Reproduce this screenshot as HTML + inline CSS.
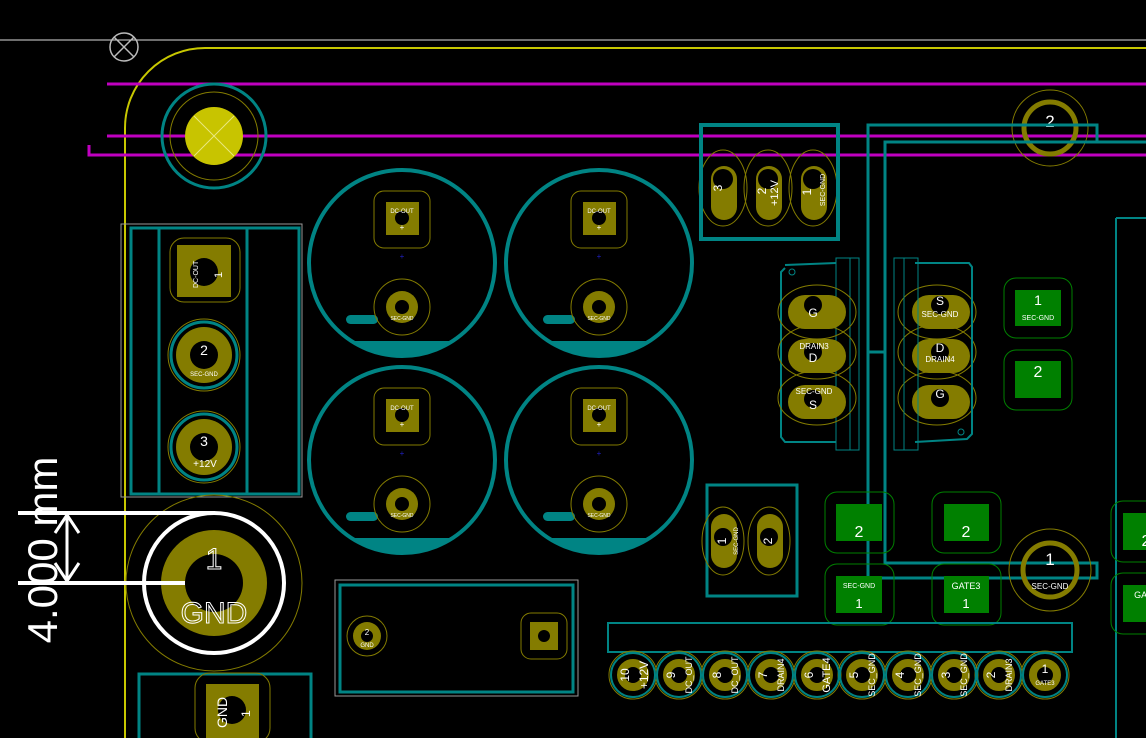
<!DOCTYPE html>
<html><head><meta charset="utf-8"><style>
html,body{margin:0;padding:0;background:#000;width:1146px;height:738px;overflow:hidden}
svg{display:block}
text{font-family:"Liberation Sans",sans-serif;fill:#fff}
</style></head><body>
<svg width="1146" height="738" viewBox="0 0 1146 738" xmlns="http://www.w3.org/2000/svg">
<defs>
<g id="cap">
<circle cx="0" cy="0" r="93" fill="none" stroke="#008484" stroke-width="4"/>
<path d="M-52,78 A95,95 0 0 0 52,78 Z" fill="#008484"/>
<rect x="-56" y="52" width="32" height="9" rx="4.5" fill="#008484"/>
<rect x="-28" y="-72" width="56" height="57" rx="10" fill="none" stroke="#847c00" stroke-width="1"/>
<rect x="-16" y="-61" width="33" height="33" fill="#847c00"/>
<circle cx="0" cy="-45" r="7" fill="#000"/>
<text x="0" y="-50" font-size="6" text-anchor="middle">DC-OUT</text>
<text x="0" y="-33" font-size="8" text-anchor="middle">+</text>
<circle cx="0" cy="44" r="28" fill="none" stroke="#847c00" stroke-width="1"/>
<circle cx="0" cy="44" r="16" fill="#847c00"/>
<circle cx="0" cy="44" r="7" fill="#000"/>
<text x="0" y="57" font-size="5" text-anchor="middle">SEC-GND</text>
<text x="0" y="-4" font-size="8" text-anchor="middle" style="fill:#2020c0">+</text>
</g>
</defs>

<line x1="0" y1="40" x2="1146" y2="40" stroke="#ddd" stroke-width="1"/>
<circle cx="124" cy="47" r="14" fill="none" stroke="#bbb" stroke-width="1.5"/>
<path d="M114,37 L134,57 M134,37 L114,57" stroke="#bbb" stroke-width="1.5"/>
<path d="M1146,48 L205,48 A80,80 0 0 0 125,128 L125,738" fill="none" stroke="#c8c800" stroke-width="2"/>
<line x1="107" y1="84" x2="1146" y2="84" stroke="#c000c0" stroke-width="3"/>
<line x1="107" y1="136" x2="1146" y2="136" stroke="#c000c0" stroke-width="3"/>
<path d="M89,145 L89,155 L1146,155" fill="none" stroke="#c000c0" stroke-width="3"/>

<circle cx="214" cy="136" r="52" fill="none" stroke="#008484" stroke-width="3"/>
<circle cx="214" cy="136" r="44" fill="none" stroke="#847c00" stroke-width="1"/>
<circle cx="214" cy="136" r="29" fill="#c8c400"/>
<path d="M194,116 L234,156 M234,116 L194,156" stroke="#e8e880" stroke-width="1"/>

<circle cx="1050" cy="128" r="38" fill="none" stroke="#847c00" stroke-width="1"/>
<circle cx="1050" cy="128" r="26" fill="none" stroke="#847c00" stroke-width="5"/>
<text x="1050" y="127" font-size="17" text-anchor="middle">2</text>

<rect x="121" y="224" width="181" height="273" fill="none" stroke="#999" stroke-width="1"/>
<rect x="131" y="228" width="168" height="266" fill="none" stroke="#008484" stroke-width="3"/>
<line x1="159" y1="228" x2="159" y2="494" stroke="#008484" stroke-width="3"/>
<line x1="247" y1="228" x2="247" y2="494" stroke="#008484" stroke-width="3"/>
<rect x="170" y="238" width="70" height="64" rx="14" fill="none" stroke="#847c00" stroke-width="1"/>
<rect x="177" y="245" width="54" height="52" fill="#847c00"/>
<circle cx="204" cy="272" r="14" fill="#000"/>
<text x="0" y="0" font-size="7" transform="translate(198,288) rotate(-90)">DC-OUT</text>
<text x="0" y="0" font-size="11" transform="translate(222,278) rotate(-90)">1</text>
<g>
<circle cx="204" cy="355" r="36" fill="none" stroke="#847c00" stroke-width="1"/>
<circle cx="204" cy="355" r="33" fill="none" stroke="#008484" stroke-width="3"/>
<circle cx="204" cy="355" r="28" fill="#847c00"/>
<circle cx="204" cy="355" r="14" fill="#000"/>
<text x="204" y="355" font-size="14" text-anchor="middle">2</text>
<text x="204" y="376" font-size="6" text-anchor="middle">SEC-GND</text>
</g>
<g>
<circle cx="204" cy="447" r="36" fill="none" stroke="#847c00" stroke-width="1"/>
<circle cx="204" cy="447" r="33" fill="none" stroke="#008484" stroke-width="3"/>
<circle cx="204" cy="447" r="28" fill="#847c00"/>
<circle cx="204" cy="447" r="14" fill="#000"/>
<text x="204" y="446" font-size="14" text-anchor="middle">3</text>
<text x="205" y="467" font-size="10" text-anchor="middle">+12V</text>
</g>

<use href="#cap" x="402" y="263"/>
<use href="#cap" x="599" y="263"/>
<use href="#cap" x="402" y="460"/>
<use href="#cap" x="599" y="460"/>

<circle cx="214" cy="583" r="88" fill="none" stroke="#847c00" stroke-width="1"/>
<circle cx="214" cy="583" r="70" fill="none" stroke="#fff" stroke-width="4"/>
<circle cx="214" cy="583" r="53" fill="#847c00"/>
<circle cx="214" cy="583" r="29" fill="#000"/>
<text x="214" y="569" font-size="30" text-anchor="middle" style="fill:none;stroke:#fff;stroke-width:1">1</text>
<text x="214" y="623" font-size="30" text-anchor="middle" style="fill:none;stroke:#fff;stroke-width:1">GND</text>

<line x1="18" y1="513" x2="215" y2="513" stroke="#fff" stroke-width="4"/>
<line x1="18" y1="583" x2="185" y2="583" stroke="#fff" stroke-width="4"/>
<line x1="67" y1="515" x2="67" y2="581" stroke="#fff" stroke-width="3"/>
<path d="M55,533 L67,515 L79,533 M55,563 L67,581 L79,563" fill="none" stroke="#fff" stroke-width="3"/>
<text x="0" y="0" font-size="42" text-anchor="middle" transform="translate(57,550) rotate(-90)">4.000 mm</text>

<rect x="139" y="674" width="172" height="70" fill="none" stroke="#008484" stroke-width="3"/>
<rect x="195" y="673" width="75" height="70" rx="15" fill="none" stroke="#847c00" stroke-width="1"/>
<rect x="206" y="684" width="53" height="54" fill="#847c00"/>
<circle cx="232" cy="710" r="14" fill="#000"/>
<text x="0" y="0" font-size="14" transform="translate(227,728) rotate(-90)">GND</text>
<text x="0" y="0" font-size="12" transform="translate(250,717) rotate(-90)">1</text>

<rect x="335" y="580" width="243" height="116" fill="none" stroke="#999" stroke-width="1"/>
<rect x="340" y="585" width="233" height="107" fill="none" stroke="#008484" stroke-width="3"/>
<circle cx="367" cy="636" r="20" fill="none" stroke="#847c00" stroke-width="1"/>
<circle cx="367" cy="636" r="14" fill="#847c00"/>
<circle cx="367" cy="636" r="6" fill="#000"/>
<text x="367" y="635" font-size="8" text-anchor="middle">2</text>
<text x="367" y="647" font-size="6" text-anchor="middle">GND</text>
<rect x="521" y="613" width="46" height="46" rx="10" fill="none" stroke="#847c00" stroke-width="1"/>
<rect x="530" y="622" width="28" height="28" fill="#847c00"/>
<circle cx="544" cy="636" r="6" fill="#000"/>

<g>
<ellipse cx="723" cy="188" rx="24" ry="38" fill="none" stroke="#847c00" stroke-width="1"/>
<ellipse cx="768" cy="188" rx="24" ry="38" fill="none" stroke="#847c00" stroke-width="1"/>
<ellipse cx="813" cy="188" rx="24" ry="38" fill="none" stroke="#847c00" stroke-width="1"/>
<rect x="711" y="166" width="26" height="54" rx="13" fill="#847c00"/>
<rect x="756" y="166" width="26" height="54" rx="13" fill="#847c00"/>
<rect x="801" y="166" width="26" height="54" rx="13" fill="#847c00"/>
<circle cx="723" cy="179" r="10" fill="#000"/>
<circle cx="768" cy="179" r="10" fill="#000"/>
<circle cx="813" cy="179" r="10" fill="#000"/>
<text x="0" y="0" font-size="12" transform="translate(722,188) rotate(-90)" text-anchor="middle">3</text>
<text x="0" y="0" font-size="12" transform="translate(766,191) rotate(-90)" text-anchor="middle">2</text>
<text x="0" y="0" font-size="11" transform="translate(778,193) rotate(-90)" text-anchor="middle">+12V</text>
<text x="0" y="0" font-size="12" transform="translate(811,192) rotate(-90)" text-anchor="middle">1</text>
<text x="0" y="0" font-size="7" transform="translate(825,190) rotate(-90)" text-anchor="middle">SEC-GND</text>
<rect x="701" y="125" width="137" height="114" fill="none" stroke="#008484" stroke-width="4"/>
</g>

<path d="M785,268 L781,272 L781,437 L785,442 L836,442 M836,263 L785,265" fill="none" stroke="#008484" stroke-width="2"/>
<rect x="836" y="258" width="14" height="192" fill="none" stroke="#008484" stroke-width="1"/>
<rect x="850" y="258" width="9" height="192" fill="none" stroke="#008484" stroke-width="1"/>
<circle cx="792" cy="272" r="3" fill="none" stroke="#008484" stroke-width="1"/>
<g fill="none" stroke="#847c00" stroke-width="1">
<ellipse cx="817" cy="312" rx="39" ry="27"/><ellipse cx="817" cy="352" rx="39" ry="27"/><ellipse cx="817" cy="398" rx="39" ry="27"/>
<ellipse cx="937" cy="312" rx="39" ry="27"/><ellipse cx="937" cy="352" rx="39" ry="27"/><ellipse cx="937" cy="398" rx="39" ry="27"/>
</g>
<g fill="#847c00">
<rect x="788" y="295" width="58" height="34" rx="17"/><rect x="788" y="339" width="58" height="34" rx="17"/><rect x="788" y="385" width="58" height="34" rx="17"/>
<rect x="912" y="295" width="58" height="34" rx="17"/><rect x="912" y="339" width="58" height="34" rx="17"/><rect x="912" y="385" width="58" height="34" rx="17"/>
</g>
<g fill="#000">
<circle cx="813" cy="305" r="9"/><circle cx="813" cy="352" r="9"/><circle cx="813" cy="399" r="9"/>
<circle cx="940" cy="305" r="9"/><circle cx="940" cy="352" r="9"/><circle cx="940" cy="398" r="9"/>
</g>
<g font-size="12" text-anchor="middle">
<text x="813" y="317">G</text><text x="813" y="362">D</text><text x="813" y="409">S</text>
<text x="940" y="305">S</text><text x="940" y="352">D</text><text x="940" y="398">G</text>
</g>
<g font-size="8" text-anchor="middle">
<text x="814" y="349">DRAIN3</text><text x="814" y="394">SEC-GND</text>
<text x="940" y="317">SEC-GND</text><text x="940" y="362">DRAIN4</text>
</g>
<path d="M915,263 L969,263 L972,267 L972,434 L967,439 L915,442" fill="none" stroke="#008484" stroke-width="2"/>
<rect x="904" y="258" width="14" height="192" fill="none" stroke="#008484" stroke-width="1"/>
<rect x="894" y="258" width="10" height="192" fill="none" stroke="#008484" stroke-width="1"/>
<circle cx="961" cy="432" r="3" fill="none" stroke="#008484" stroke-width="1"/>

<path d="M868,578 L868,125 L1097,125 L1097,142" fill="none" stroke="#008484" stroke-width="3"/>
<path d="M1146,142 L885,142 L885,563 L1097,563 L1097,578 L868,578" fill="none" stroke="#008484" stroke-width="3"/>
<line x1="868" y1="352" x2="885" y2="352" stroke="#008484" stroke-width="3"/>
<line x1="1116" y1="218" x2="1116" y2="738" stroke="#008484" stroke-width="2"/>
<line x1="1116" y1="218" x2="1146" y2="218" stroke="#008484" stroke-width="2"/>

<g fill="none" stroke="#008000" stroke-width="1">
<rect x="1004" y="278" width="68" height="60" rx="12"/><rect x="1004" y="350" width="68" height="60" rx="12"/>
<rect x="825" y="492" width="69" height="61" rx="12"/><rect x="825" y="564" width="69" height="61" rx="12"/>
<rect x="932" y="492" width="69" height="61" rx="12"/><rect x="932" y="564" width="69" height="61" rx="12"/>
<rect x="1111" y="501" width="50" height="61" rx="12"/><rect x="1111" y="573" width="50" height="61" rx="12"/>
</g>
<g fill="#008000">
<rect x="1015" y="290" width="46" height="36"/><rect x="1015" y="361" width="46" height="37"/>
<rect x="836" y="504" width="46" height="37"/><rect x="836" y="576" width="46" height="37"/>
<rect x="944" y="504" width="45" height="37"/><rect x="944" y="576" width="45" height="37"/>
<rect x="1123" y="513" width="30" height="37"/><rect x="1123" y="585" width="30" height="37"/>
</g>
<g text-anchor="middle">
<text x="1038" y="305" font-size="14">1</text><text x="1038" y="320" font-size="7">SEC-GND</text>
<text x="1038" y="377" font-size="16">2</text>
<text x="859" y="537" font-size="16">2</text><text x="966" y="537" font-size="16">2</text>
<text x="859" y="588" font-size="7">SEC-GND</text><text x="859" y="608" font-size="13">1</text>
<text x="966" y="589" font-size="9">GATE3</text><text x="966" y="608" font-size="13">1</text>
<text x="1146" y="546" font-size="16">2</text><text x="1146" y="598" font-size="9">GATE</text>
</g>

<circle cx="1050" cy="570" r="41" fill="none" stroke="#847c00" stroke-width="1"/>
<circle cx="1050" cy="570" r="27" fill="none" stroke="#847c00" stroke-width="5"/>
<text x="1050" y="565" font-size="17" text-anchor="middle">1</text>
<text x="1050" y="589" font-size="8" text-anchor="middle">SEC-GND</text>

<rect x="707" y="485" width="90" height="111" fill="none" stroke="#008484" stroke-width="3"/>
<ellipse cx="723" cy="541" rx="21" ry="34" fill="none" stroke="#847c00" stroke-width="1"/>
<ellipse cx="769" cy="541" rx="21" ry="34" fill="none" stroke="#847c00" stroke-width="1"/>
<rect x="711" y="514" width="26" height="54" rx="13" fill="#847c00"/>
<rect x="757" y="514" width="26" height="54" rx="13" fill="#847c00"/>
<circle cx="723" cy="537" r="9" fill="#000"/><circle cx="769" cy="537" r="9" fill="#000"/>
<text x="0" y="0" font-size="12" transform="translate(726,541) rotate(-90)" text-anchor="middle">1</text>
<text x="0" y="0" font-size="6" transform="translate(738,541) rotate(-90)" text-anchor="middle">SEC-GND</text>
<text x="0" y="0" font-size="12" transform="translate(772,541) rotate(-90)" text-anchor="middle">2</text>

<rect x="608" y="623" width="464" height="29" fill="none" stroke="#008484" stroke-width="2"/>
<g>
<g fill="none" stroke="#847c00" stroke-width="1">
<circle cx="633" cy="675" r="24"/><circle cx="679" cy="675" r="24"/><circle cx="725" cy="675" r="24"/><circle cx="771" cy="675" r="24"/><circle cx="817" cy="675" r="24"/><circle cx="862" cy="675" r="24"/><circle cx="908" cy="675" r="24"/><circle cx="954" cy="675" r="24"/><circle cx="999" cy="675" r="24"/><circle cx="1045" cy="675" r="24"/>
</g>
<g fill="none" stroke="#008484" stroke-width="2">
<circle cx="633" cy="675" r="22"/><circle cx="679" cy="675" r="22"/><circle cx="725" cy="675" r="22"/><circle cx="771" cy="675" r="22"/><circle cx="817" cy="675" r="22"/><circle cx="862" cy="675" r="22"/><circle cx="908" cy="675" r="22"/><circle cx="954" cy="675" r="22"/><circle cx="999" cy="675" r="22"/><circle cx="1045" cy="675" r="22"/>
</g>
<g fill="none" stroke="#847c00" stroke-width="8">
<circle cx="633" cy="675" r="12"/><circle cx="679" cy="675" r="12"/><circle cx="725" cy="675" r="12"/><circle cx="771" cy="675" r="12"/><circle cx="817" cy="675" r="12"/><circle cx="862" cy="675" r="12"/><circle cx="908" cy="675" r="12"/><circle cx="954" cy="675" r="12"/><circle cx="999" cy="675" r="12"/><circle cx="1045" cy="675" r="12"/>
</g>
<g font-size="12" text-anchor="middle">
<text transform="translate(629,675) rotate(-90)">10</text><text transform="translate(675,675) rotate(-90)">9</text><text transform="translate(721,675) rotate(-90)">8</text><text transform="translate(767,675) rotate(-90)">7</text><text transform="translate(813,675) rotate(-90)">6</text><text transform="translate(858,675) rotate(-90)">5</text><text transform="translate(904,675) rotate(-90)">4</text><text transform="translate(950,675) rotate(-90)">3</text><text transform="translate(995,675) rotate(-90)">2</text><text x="1045" y="673">1</text>
</g>
<g font-size="9" text-anchor="middle">
<text transform="translate(648,675) rotate(-90)" font-size="12">+12V</text><text transform="translate(692,675) rotate(-90)">DC_OUT</text><text transform="translate(738,675) rotate(-90)">DC_OUT</text><text transform="translate(784,675) rotate(-90)">DRAIN4</text><text transform="translate(830,675) rotate(-90)" font-size="11">GATE4</text><text transform="translate(875,675) rotate(-90)">SEC_GND</text><text transform="translate(921,675) rotate(-90)">SEC_GND</text><text transform="translate(967,675) rotate(-90)">SEC_GND</text><text transform="translate(1012,675) rotate(-90)">DRAIN3</text><text x="1045" y="685" font-size="6">GATE3</text>
</g>
</g>
</svg>
</body></html>
